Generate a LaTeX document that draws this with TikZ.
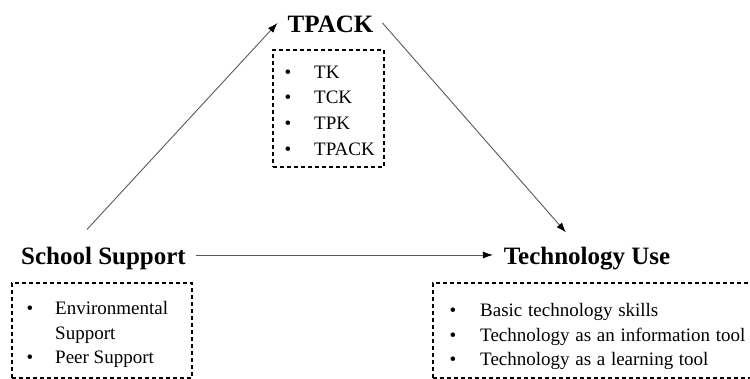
\documentclass[tikz,border=0pt]{standalone}
\usepackage{fontspec}
\setmainfont{Liberation Serif}
\usetikzlibrary{arrows.meta}
\newcommand\widesp{\spaceskip=0.3em\relax}
\tikzset{
  title/.style={font=\fontsize{25}{28}\selectfont\bfseries, inner sep=0pt, anchor=base},
  item/.style={font=\fontsize{19}{22}\selectfont, inner sep=0pt, anchor=base west},
  dot/.style={font=\fontsize{19}{22}\selectfont, inner sep=0pt, anchor=base},
  dbox/.style={draw=black, line width=1.1pt, dash pattern=on 4pt off 3pt, inner sep=0pt},
  arr/.style={draw=black!65, line width=0.9pt, -{Latex[length=10pt,width=7pt,black]}}
}
\begin{document}
\begin{tikzpicture}[x=1pt,y=-1pt]
\useasboundingbox (0,0) rectangle (750,379);
\clip (0,0) rectangle (750,379);
% titles
\node[title] (tpack) at (330.5,33) {TPACK};
\node[title] (school) at (103.5,265) {School Support};
\node[title] (techuse) at (587,265) {Technology Use};
% boxes
\node[dbox, minimum width=111pt, minimum height=117pt] (tbox) at (328.5,108.5) {};
\node[dbox, minimum width=180pt, minimum height=95pt] (sbox) at (102,330.5) {};
\node[dbox, minimum width=327pt, minimum height=95pt] (ubox) at (596.5,330.5) {};
% TPACK items
\node[dot] (tb1) at (288,79) {•};
\node[item] (ti1) at (314,79) {TK};
\node[dot] (tb2) at (288,104) {•};
\node[item] (ti2) at (314,104) {TCK};
\node[dot] (tb3) at (288,130) {•};
\node[item] (ti3) at (314,130) {TPK};
\node[dot] (tb4) at (288,156) {•};
\node[item] (ti4) at (314,156) {TPACK};
% School items
\node[dot] (sb1) at (30,315) {•};
\node[item] (si1) at (55,315) {Environmental};
\node[item] (si2) at (55,340) {Support};
\node[dot] (sb3) at (30,364) {•};
\node[item] (si3) at (55,364) {Peer Support};
% Technology use items
\node[dot] (ub1) at (453,317) {•};
\node[item] (ui1) at (480,317) {\widesp Basic technology skills};
\node[dot] (ub2) at (453,342) {•};
\node[item] (ui2) at (480,342) {\widesp Technology as an information tool};
\node[dot] (ub3) at (453,366) {•};
\node[item] (ui3) at (480,366) {\widesp Technology as a learning tool};
% arrows
\draw[arr] ([shift={(-16.5,-18)}]school.north) -- ([shift={(-10,-10)}]tpack.base west);
\draw[arr] ([shift={(9,-10)}]tpack.base east) -- ([shift={(-21,-15)}]techuse.north);
\draw[arr] ([shift={(10,-10)}]school.base east) -- ([shift={(-10.6,-10)}]techuse.base west);
\end{tikzpicture}
\end{document}
